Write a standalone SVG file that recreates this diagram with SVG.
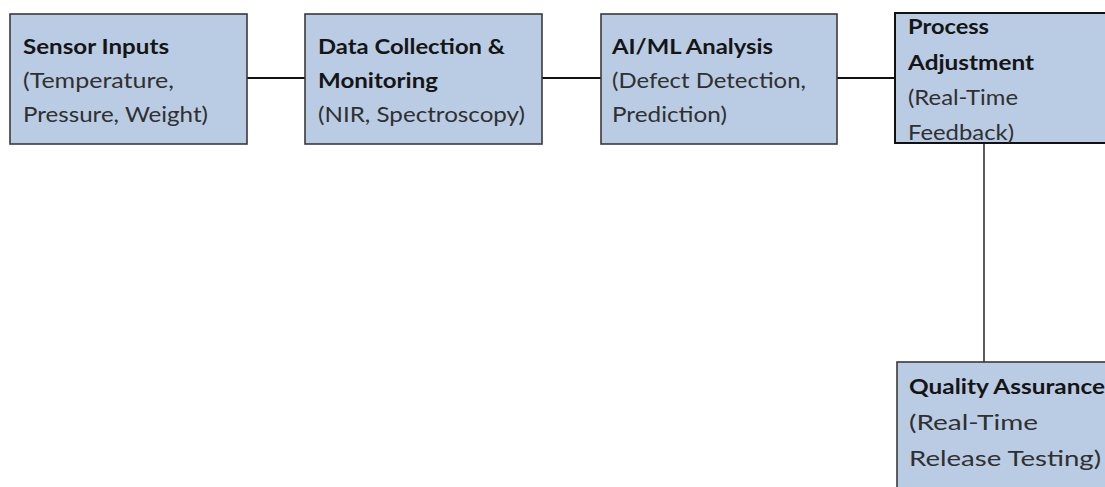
<svg xmlns="http://www.w3.org/2000/svg" width="1105" height="487" viewBox="0 0 1105 487">
<style>
.box{fill:#b9cce4;stroke:#3a3a3a;stroke-width:1.6}
.t{font-family:Lato,"Open Sans",sans-serif;font-size:21px;fill:#303030}
.b{font-weight:bold;fill:#151515}
.c{stroke:#111;stroke-width:2.2;fill:none}
.v{stroke:#333;stroke-width:1.6;fill:none}
</style>
<rect width="1105" height="487" fill="#fff"/>
<g id="connectors">
<line class="c" x1="247" y1="78" x2="305" y2="78"/>
<line class="c" x1="542" y1="78" x2="601" y2="78"/>
<line class="c" x1="837" y1="78" x2="895" y2="78"/>
<line class="v" x1="984" y1="143" x2="984" y2="362"/>
</g>
<g id="sensor-inputs">
<rect class="box" x="10" y="14" width="237" height="130"/>
<text class="t b" x="23" y="54" textLength="146" lengthAdjust="spacingAndGlyphs">Sensor Inputs</text>
<text class="t" x="23" y="88" textLength="151" lengthAdjust="spacingAndGlyphs">(Temperature,</text>
<text class="t" x="23" y="122" textLength="185" lengthAdjust="spacingAndGlyphs">Pressure, Weight)</text>
</g>
<g id="data-collection">
<rect class="box" x="305" y="14" width="237" height="130"/>
<text class="t b" x="318" y="54" textLength="187" lengthAdjust="spacingAndGlyphs">Data Collection &amp;</text>
<text class="t b" x="318" y="88" textLength="120" lengthAdjust="spacingAndGlyphs">Monitoring</text>
<text class="t" x="318" y="122" textLength="207" lengthAdjust="spacingAndGlyphs">(NIR, Spectroscopy)</text>
</g>
<g id="ai-ml-analysis">
<rect class="box" x="601" y="14" width="236" height="130"/>
<text class="t b" x="612" y="54" textLength="161" lengthAdjust="spacingAndGlyphs">AI/ML Analysis</text>
<text class="t" x="612" y="88" textLength="194" lengthAdjust="spacingAndGlyphs">(Defect Detection,</text>
<text class="t" x="612" y="122" textLength="115" lengthAdjust="spacingAndGlyphs">Prediction)</text>
</g>
<g id="process-adjustment">
<rect class="box" x="895" y="13" width="220" height="130" style="stroke:#111;stroke-width:2"/>
<text class="t b" x="908" y="34" textLength="81" lengthAdjust="spacingAndGlyphs">Process</text>
<text class="t b" x="908" y="70" textLength="126" lengthAdjust="spacingAndGlyphs">Adjustment</text>
<text class="t" x="908" y="105" textLength="110" lengthAdjust="spacingAndGlyphs">(Real-Time</text>
<text class="t" x="908" y="140" textLength="106" lengthAdjust="spacingAndGlyphs">Feedback)</text>
</g>
<g id="quality-assurance">
<rect class="box" x="897" y="362" width="220" height="140"/>
<text class="t b" x="909" y="394" textLength="196" lengthAdjust="spacingAndGlyphs">Quality Assurance</text>
<text class="t" x="909" y="430" textLength="129" lengthAdjust="spacingAndGlyphs">(Real-Time</text>
<text class="t" x="909" y="466" textLength="192" lengthAdjust="spacingAndGlyphs">Release Testing)</text>
</g>
</svg>
